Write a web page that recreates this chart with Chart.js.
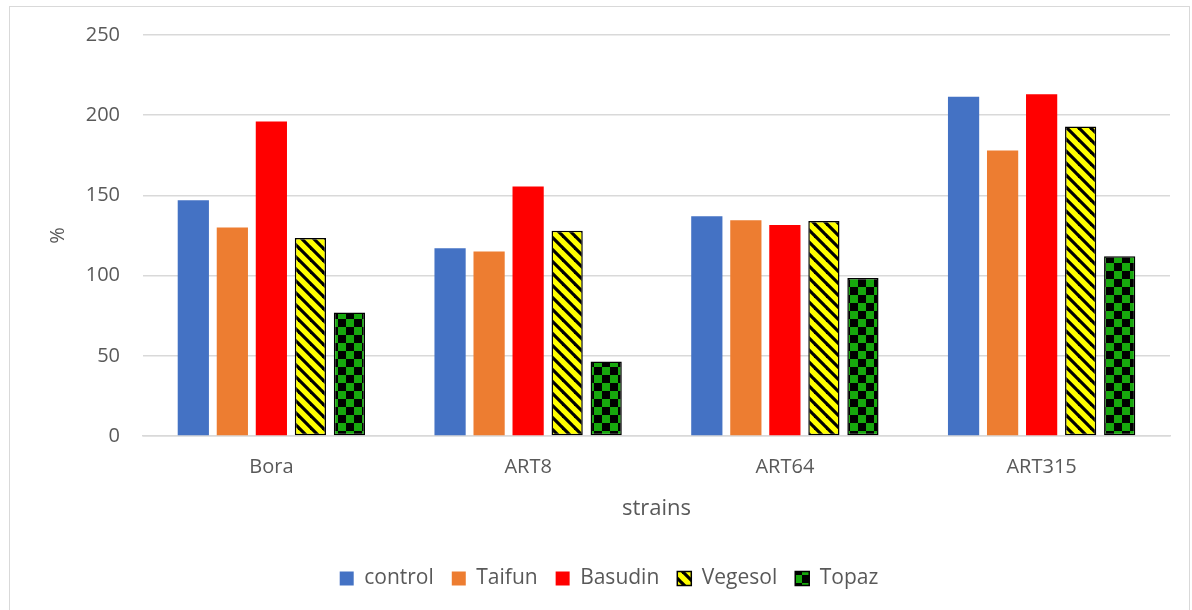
<!DOCTYPE html>
<html>
<head>
<meta charset="utf-8">
<script src="https://cdn.jsdelivr.net/npm/chart.js@4"></script>
<style>
  html, body { margin: 0; padding: 0; background: #fff; overflow: hidden; }
  #box {
    position: absolute; left: 9px; top: 6px;
    width: 1179px; height: 603px;
    border: 1px solid #d9d9d9;
  }
</style>
</head>
<body>
<div id="box"><canvas id="chart"></canvas></div>
<script>
// strains on the x axis, % on the y axis
const strains = ['Bora', 'ART8', 'ART64', 'ART315'];
const control = [147, 117, 137, 211.5];
const taifun  = [130, 115, 134.5, 178];
const basudin = [196, 155.5, 131.5, 213];
const vegesol = [123.5, 128, 134, 193];
const topaz   = [77, 46.5, 98.5, 112];

const textGrey = '#595959';
const gridGrey = '#d9d9d9';

// yellow with black "\" stripes
function stripePattern() {
    const c = document.createElement('canvas');
    c.width = 12; c.height = 12;
    const g = c.getContext('2d');
    g.fillStyle = '#ffff00';
    g.fillRect(0, 0, 12, 12);
    g.strokeStyle = '#000';
    g.lineWidth = 3.2;
    [-12, 0, 12].forEach(function (o) {
        g.beginPath();
        g.moveTo(o - 2, -2);
        g.lineTo(o + 14, 14);
        g.stroke();
    });
    return g.createPattern(c, 'repeat');
}

// green / black checkerboard
function checkerPattern() {
    const c = document.createElement('canvas');
    c.width = 16; c.height = 16;
    const g = c.getContext('2d');
    g.fillStyle = '#17a80d';
    g.fillRect(0, 0, 16, 16);
    g.fillStyle = '#000';
    g.fillRect(0, 0, 8, 8);
    g.fillRect(8, 8, 8, 8);
    return g.createPattern(c, 'repeat');
}

const base = {
    categoryPercentage: 0.76,
    barPercentage: 0.8,
    borderSkipped: false
};

new Chart(document.getElementById('chart'), {
    type: 'bar',
    data: {
        labels: strains,
        datasets: [
            Object.assign({label: 'control', data: control, backgroundColor: '#4472c4', borderWidth: 0}, base),
            Object.assign({label: 'Taifun', data: taifun, backgroundColor: '#ed7d31', borderWidth: 0}, base),
            Object.assign({label: 'Basudin', data: basudin, backgroundColor: '#ff0000', borderWidth: 0}, base),
            Object.assign({label: 'Vegesol', data: vegesol, backgroundColor: stripePattern(), borderColor: '#000', borderWidth: 1.5}, base),
            Object.assign({label: 'Topaz', data: topaz, backgroundColor: checkerPattern(), borderColor: '#000', borderWidth: 1.5}, base)
        ]
    },
    options: {
        responsive: true,
        maintainAspectRatio: false,
        animation: false,
        layout: {
            padding: {top: 28, right: 19, bottom: 11, left: 38}
        },
        scales: {
            x: {
                grid: {display: false, drawTicks: false},
                border: {display: true, color: gridGrey, width: 1.5},
                ticks: {color: textGrey, font: {family: 'Open Sans', size: 20}, padding: 19},
                title: {
                    display: true,
                    text: 'strains',
                    color: textGrey,
                    font: {family: 'Open Sans', size: 22},
                    padding: {top: 0, bottom: 28}
                },
                afterFit: function (scale) { scale.height = 114; }
            },
            y: {
                min: 0,
                max: 250,
                grid: {color: gridGrey, lineWidth: 1.5, drawTicks: false},
                border: {display: false},
                ticks: {stepSize: 50, color: textGrey, font: {family: 'Open Sans', size: 20}, padding: 23},
                title: {
                    display: true,
                    text: '%',
                    color: textGrey,
                    font: {family: 'Open Sans', size: 20},
                    padding: {top: -2, bottom: 0}
                },
                afterFit: function (scale) {
                    scale.width = 95;
                    scale.paddingTop = 0;
                    scale.paddingBottom = 0;
                }
            }
        },
        plugins: {
            legend: {
                position: 'bottom',
                labels: {
                    color: textGrey,
                    font: {family: 'Open Sans', size: 21},
                    boxWidth: 14,
                    boxHeight: 14,
                    padding: 18
                }
            },
            tooltip: {enabled: false}
        }
    }
});
</script>
</body>
</html>
